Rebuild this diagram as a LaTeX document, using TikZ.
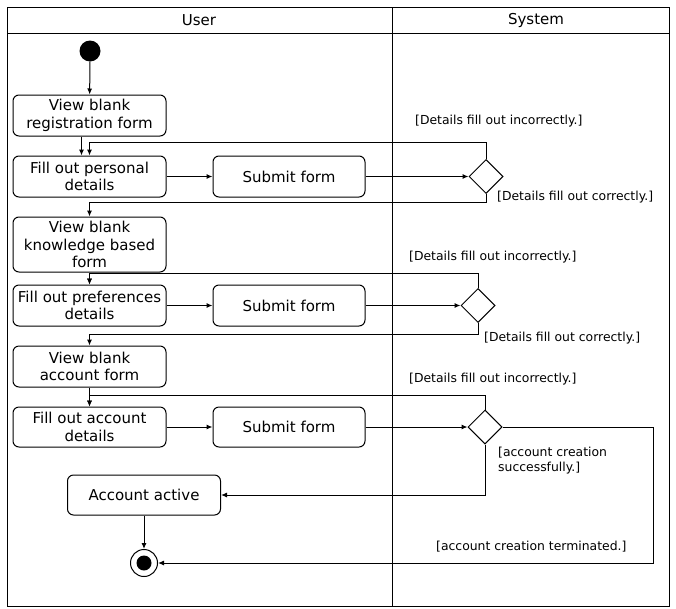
\documentclass[tikz,border=0pt]{standalone}
\usepackage{fontspec}
\setmainfont{DejaVu Sans}
\usetikzlibrary{shapes.geometric,arrows.meta}

\begin{document}
\begin{tikzpicture}[x=1pt,y=-1pt,
        actBox/.style={draw,rounded corners=6pt,line width=1pt,minimum width=153pt,minimum height=41pt,align=center,inner sep=1pt,font=\fontsize{15}{17.5}\selectfont},
        decNode/.style={draw,diamond,aspect=1,minimum size=34pt,inner sep=0pt,line width=1pt},
        flowArrow/.style={line width=1pt,-{Latex[length=6pt,width=5pt]}},
        guardText/.style={anchor=west,inner sep=0pt,align=left,font=\fontsize{12.4}{15}\selectfont},
        laneText/.style={font=\fontsize{15}{18}\selectfont}]
            \useasboundingbox (0,0) rectangle (676,608);
            \draw[line width=1pt] (7,7) rectangle (669,606);
            \draw[line width=1pt] (7,33) -- (669,33);
            \draw[line width=1pt] (392,7) -- (392,606);
            \node[laneText] (laneUser) at (199,20) {User};
            \node[laneText] (laneSys) at (536,20) {System};

            \node[circle,fill,minimum size=21pt,inner sep=0pt] (start) at (90,51) {};
            \node[actBox] (viewReg) at (89.5,115.5) {View blank\\registration form};
            \node[actBox] (fillPers) at (89.5,176.5) {Fill out personal\\details};
            \node[actBox,minimum width=152pt] (subPers) at (289,176.5) {Submit form};
            \node[decNode] (decPers) at (486,176.5) {};
            \node[actBox,minimum height=55pt] (viewKnow) at (89.5,244.5) {View blank\\knowledge based\\form};
            \node[actBox] (fillPref) at (89.5,305.5) {Fill out preferences\\details};
            \node[actBox,minimum width=152pt] (subPref) at (289,305.5) {Submit form};
            \node[decNode] (decPref) at (478,305.5) {};
            \node[actBox] (viewAcct) at (89.5,366.5) {View blank\\account form};
            \node[actBox,minimum height=40pt] (fillAcct) at (89.5,427) {Fill out account\\details};
            \node[actBox,minimum width=152pt,minimum height=40pt] (subAcct) at (289,427) {Submit form};
            \node[decNode] (decAcct) at (485,427) {};
            \node[actBox,minimum height=40pt] (accActive) at (144,495) {Account active};
            \node[circle,draw,line width=1pt,minimum size=27pt,inner sep=0pt] (finish) at (144,563) {};
            \node[circle,fill,minimum size=15pt,inner sep=0pt] (finishDot) at (finish) {};
            \coordinate (termCorner) at (653,563);

            \draw[flowArrow] (start) -- (viewReg);
            \draw[flowArrow] ([xshift=-8pt]viewReg.south) -- ([xshift=-8pt]fillPers.north);
            \draw[flowArrow] (decPers.north) |- ([yshift=13pt]fillPers.north) -- (fillPers.north);
            \draw[flowArrow] (fillPers) -- (subPers);
            \draw[flowArrow] (subPers) -- (decPers);
            \draw[flowArrow] (decPers.south) |- ([yshift=14pt]viewKnow.north) -- (viewKnow.north);

            \draw[flowArrow] (viewKnow) -- (fillPref);
            \draw[flowArrow] (decPref.north) |- ([yshift=11pt]fillPref.north) -- (fillPref.north);
            \draw[flowArrow] (fillPref) -- (subPref);
            \draw[flowArrow] (subPref) -- (decPref);
            \draw[flowArrow] (decPref.south) |- ([yshift=11pt]viewAcct.north) -- (viewAcct.north);

            \draw[flowArrow] (viewAcct) -- (fillAcct);
            \draw[flowArrow] (decAcct.north) |- ([yshift=11pt]fillAcct.north) -- (fillAcct.north);
            \draw[flowArrow] (fillAcct) -- (subAcct);
            \draw[flowArrow] (subAcct) -- (decAcct);
            \draw[flowArrow] (decAcct.south) |- (accActive.east);
            \draw[flowArrow] (decAcct.east) -| (termCorner) -- (finish.east);
            \draw[flowArrow] (accActive) -- (finish);

            \node[guardText] (grdPersNo) at (415,121) {[Details fill out incorrectly.]};
            \node[guardText] (grdPersYes) at (497,197) {[Details fill out correctly.]};
            \node[guardText] (grdPrefNo) at (409,257) {[Details fill out incorrectly.]};
            \node[guardText] (grdPrefYes) at (484,338) {[Details fill out correctly.]};
            \node[guardText] (grdAcctNo) at (409,379) {[Details fill out incorrectly.]};
            \node[guardText] (grdAcctYes) at (498,460.5) {[account creation\\successfully.]};
            \node[guardText] (grdAcctEnd) at (436,547) {[account creation terminated.]};
        \end{tikzpicture}
\end{document}
